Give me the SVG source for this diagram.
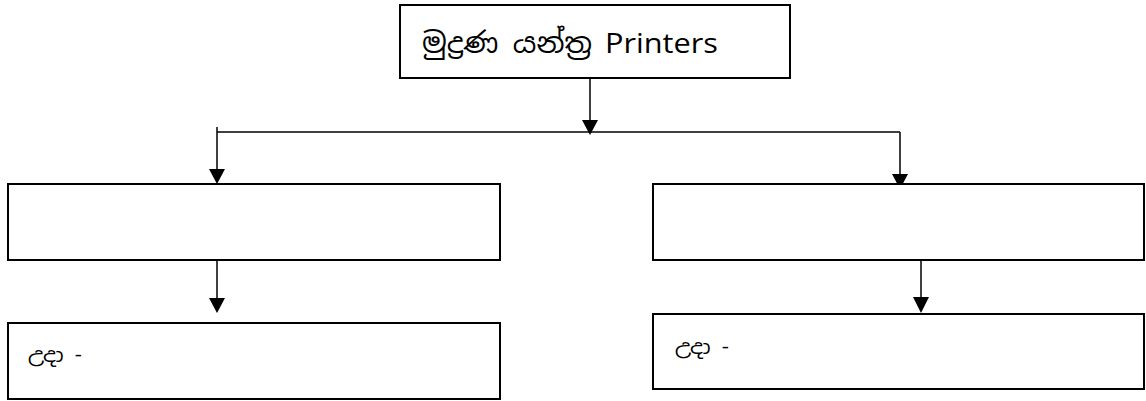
<svg xmlns="http://www.w3.org/2000/svg" width="1146" height="401" viewBox="0 0 1146 401">
<style>
.box{fill:#fff;stroke:#000;stroke-width:2}
.ln{fill:none;stroke:#000;stroke-width:1.5}
.t{font-family:"Noto Sans Sinhala","Noto Sans","Open Sans",sans-serif;fill:#000}
.en{font-family:"Open Sans","Liberation Sans",sans-serif;fill:#000}
.ah{fill:#000}
</style>
<rect width="1146" height="401" fill="#fff"/>
<g id="connectors">
<line class="ln" x1="590" y1="78" x2="590" y2="121"/>
<polygon class="ah" points="582,120 598,120 590,135"/>
<line class="ln" x1="217" y1="132" x2="900" y2="132"/>
<line class="ln" x1="217" y1="127" x2="217" y2="170"/>
<polygon class="ah" points="209,169 225,169 217,184"/>
<line class="ln" x1="900" y1="132" x2="900" y2="175"/>
<polygon class="ah" points="892,174 908,174 900,189"/>
<line class="ln" x1="217" y1="256" x2="217" y2="299"/>
<polygon class="ah" points="209,298 225,298 217,313"/>
<line class="ln" x1="921" y1="256" x2="921" y2="298"/>
<polygon class="ah" points="913,297 929,297 921,313"/>
</g>
<g id="node-printers">
<rect class="box" x="400" y="5" width="390" height="73"/>
<text class="t" x="422" y="53" font-size="28" textLength="170" lengthAdjust="spacingAndGlyphs">මුද්‍රණ යන්ත්‍ර</text>
<text class="en" x="605" y="53" font-size="28" textLength="113" lengthAdjust="spacingAndGlyphs">Printers</text>
</g>
<g id="node-left">
<rect class="box" x="8" y="184" width="492" height="76"/>
</g>
<g id="node-right">
<rect class="box" x="653" y="184" width="491" height="76"/>
</g>
<g id="node-left-eg">
<rect class="box" x="8" y="323" width="492" height="76"/>
<text class="t" x="28" y="362" font-size="20" textLength="54" lengthAdjust="spacingAndGlyphs">උදා -</text>
</g>
<g id="node-right-eg">
<rect class="box" x="653" y="314" width="491" height="75"/>
<text class="t" x="675" y="354" font-size="20" textLength="54" lengthAdjust="spacingAndGlyphs">උදා -</text>
</g>
</svg>
